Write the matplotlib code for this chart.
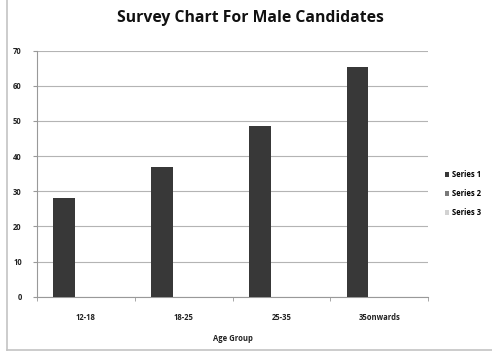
import numpy as np
import matplotlib
matplotlib.use('Agg')
import matplotlib.pyplot as plt
from matplotlib.lines import Line2D

# Chart data
age_groups = ['12-18', '18-25', '25-35', '35onwards']
series_1 = [28, 37, 48.5, 65.5]
series_2 = [0, 0, 0, 0]
series_3 = [0, 0, 0, 0]
series_names = ['Series 1', 'Series 2', 'Series 3']
y_ticks = [0, 10, 20, 30, 40, 50, 60, 70]

colors = ['#383838', '#7a7a7a', '#d2d2d2']
plt.rcParams['font.family'] = ['Open Sans', 'DejaVu Sans']

fig = plt.figure(figsize=(4.92, 3.52), dpi=100)
fig.patch.set_facecolor('white')

# Scanned page frame (left and bottom edges visible)
fig.lines.append(Line2D([0.014, 0.014], [0.005, 1.0], transform=fig.transFigure,
                        color='#c4c4c4', lw=1.2))
fig.lines.append(Line2D([0.014, 1.0], [0.006, 0.006], transform=fig.transFigure,
                        color='#c4c4c4', lw=1.2))

ax = fig.add_axes([0.0752, 0.157, 0.795, 0.699])

x = np.arange(len(age_groups))
width = 0.222
for i, (vals, name) in enumerate(zip([series_1, series_2, series_3], series_names)):
    ax.bar(x + (i - 1) * width, vals, width, color=colors[i], label=name, zorder=3)

ax.set_xlim(-0.5, len(age_groups) - 0.5)
ax.set_ylim(0, 70)
ax.set_yticks(y_ticks)
ax.set_yticklabels([str(v) for v in y_ticks], fontsize=5.5, fontweight='bold', color='#222222')
ax.yaxis.grid(True, color='#b4b4b4', lw=0.8, zorder=0)

ax.set_xticks(x)
ax.set_xticklabels(age_groups, fontsize=5.5, fontweight='bold', color='#222222')
ax.tick_params(axis='x', length=0, pad=12)
ax.set_xticks(np.arange(-0.5, len(age_groups)), minor=True)
ax.tick_params(axis='x', which='minor', length=3, color='#999999')
ax.tick_params(axis='y', length=3, color='#999999', pad=8)

for side in ['top', 'right']:
    ax.spines[side].set_visible(False)
ax.spines['left'].set_color('#999999')
ax.spines['bottom'].set_color('#999999')

ax.set_xlabel('Age Group', fontsize=5.5, fontweight='bold', labelpad=8, color='#222222')

fig.text(0.51, 0.949, 'Survey Chart For Male Candidates', ha='center', va='center',
         fontsize=11.3, fontweight='bold', color='#111111')

handles, labels = ax.get_legend_handles_labels()
fig.legend(handles, labels, loc='center left', bbox_to_anchor=(0.893, 0.45),
           frameon=False, prop={'weight': 'bold', 'size': 5.5},
           handlelength=0.6, handleheight=0.6, handletextpad=0.4, labelspacing=1.35,
           borderpad=0.2)

fig.savefig('out.png', dpi=100)
